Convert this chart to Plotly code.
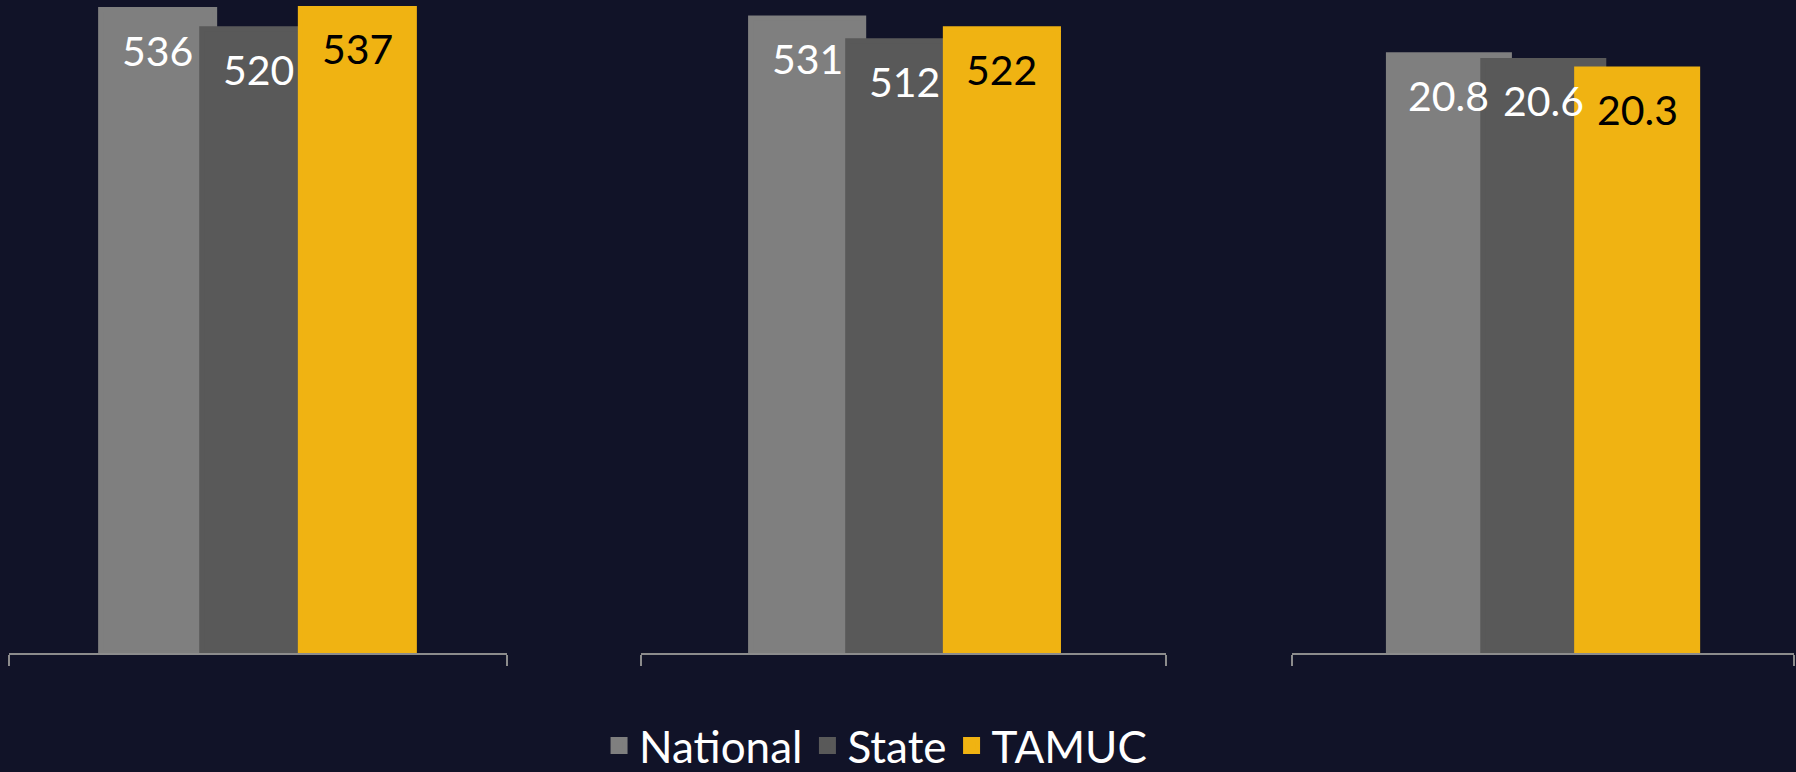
import plotly.graph_objects as go

# ---------------- data ----------------
categories = ["Test A", "Test B", "Test C"]          # hidden category names (one per panel)
series_names = ["National", "State", "TAMUC"]
national = [536, 531, 20.8]
state = [520, 512, 20.6]
tamuc = [537, 522, 20.3]
label_formats = ["{:.0f}", "{:.0f}", "{:.1f}"]

# ---------------- style ----------------
FIG_W, FIG_H = 1796, 772
BG = "#111328"
colors = ["#7F7F7F", "#595959", "#F0B312"]
text_colors = ["#FFFFFF", "#FFFFFF", "#000000"]
FONT = "Lato"
OUTLINE = 5  # px outline in bar colour (also enlarges the legend squares)
x_domains = [(0.0050, 0.2823), (0.3569, 0.6492), (0.7194, 0.9989)]
y_max = [544, 546, 22.7]
bar_w = [0.239, 0.225, 0.251]
bar_off = [[-0.321, -0.118, 0.080], [-0.296, -0.111, 0.075], [-0.313, -0.125, 0.062]]

values = [national, state, tamuc]

fig = go.Figure()
annotations = []
for p, cat in enumerate(categories):
    xa = "x" if p == 0 else f"x{p+1}"
    ya = "y" if p == 0 else f"y{p+1}"
    axis_px = (x_domains[p][1] - x_domains[p][0]) * FIG_W
    shrink = OUTLINE / axis_px
    for s, name in enumerate(series_names):
        v = values[s][p]
        fig.add_trace(go.Bar(
            x=[cat], y=[v], name=name,
            width=bar_w[p] - shrink, offset=bar_off[p][s] + shrink / 2,
            marker=dict(color=colors[s], line=dict(color=colors[s], width=OUTLINE)),
            legendgroup=name, showlegend=(p == 0),
            xaxis=xa, yaxis=ya, hoverinfo="name+y",
        ))
        annotations.append(dict(
            x=cat, y=v, xref=xa, yref=ya,
            text=label_formats[p].format(v), showarrow=False,
            xanchor="center", yanchor="top",
            xshift=(bar_off[p][s] + bar_w[p] / 2) * axis_px, yshift=-14,
            font=dict(family=FONT, size=41, color=text_colors[s]),
        ))

layout = dict(
    width=FIG_W, height=FIG_H,
    paper_bgcolor=BG, plot_bgcolor=BG,
    margin=dict(l=0, r=0, t=0, b=119, autoexpand=False),
    barmode="overlay",
    showlegend=True,
    legend=dict(orientation="h", x=0.4875, xanchor="center", y=-0.1424, yanchor="middle",
                font=dict(family=FONT, size=44, color="#FFFFFF"),
                bgcolor="rgba(0,0,0,0)", traceorder="normal"),
    annotations=annotations,
)
for p in range(3):
    k = "" if p == 0 else str(p + 1)
    layout[f"xaxis{k}"] = dict(
        domain=list(x_domains[p]), type="category", range=[-0.5, 0.5],
        showline=True, linecolor="#8C8C8C", linewidth=2,
        ticks="outside", tickson="boundaries", ticklen=11, tickwidth=2, tickcolor="#8C8C8C",
        showticklabels=False, showgrid=False, zeroline=False, fixedrange=True,
        anchor="y" if p == 0 else f"y{p+1}",
    )
    layout[f"yaxis{k}"] = dict(
        range=[0, y_max[p]], visible=False, showgrid=False, zeroline=False, fixedrange=True,
        anchor="x" if p == 0 else f"x{p+1}", domain=[0, 1],
    )
fig.update_layout(**layout)
fig.write_html("out.html", config={"displayModeBar": False},
               post_script="document.body.style.margin='0';document.body.style.background='" + BG + "';")
